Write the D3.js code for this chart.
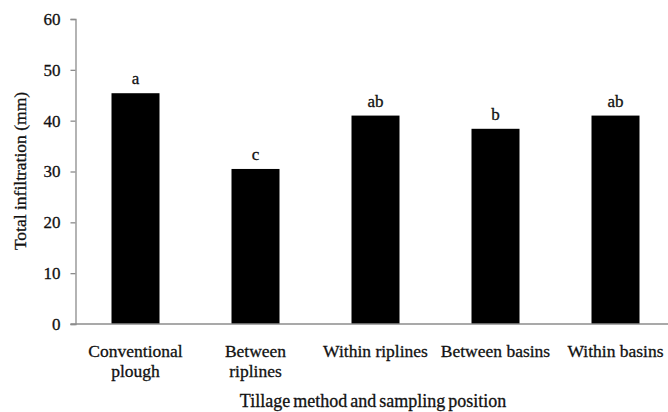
<!DOCTYPE html>
<html>
<head>
<meta charset="utf-8">
<script src="https://cdn.jsdelivr.net/npm/d3@7"></script>
<style>
  html, body { margin: 0; padding: 0; background: #fff; }
  text { font-family: "Liberation Serif", "Times New Roman", serif; fill: #111; stroke: #111; stroke-width: 0.3px; }
</style>
</head>
<body>
<svg id="chart" width="668" height="412"></svg>
<script>
// Total infiltration by tillage method and sampling position
const categories = [
  ["Conventional", "plough"],
  ["Between", "riplines"],
  ["Within riplines"],
  ["Between basins"],
  ["Within basins"]
];
const values = [45.4, 30.5, 41.0, 38.4, 41.0];
const letters = ["a", "c", "ab", "b", "ab"];
const yTicks = [0, 10, 20, 30, 40, 50, 60];

const svg = d3.select("#chart");
const W = 668, H = 412;
const plotLeft = 75.5, plotBottom = 324, plotTop = 19;
const keys = categories.map(c => c.join(" "));

const x = d3.scaleBand().domain(keys).range([plotLeft, plotLeft + 600]).paddingInner(0.6).paddingOuter(0.3);
const y = d3.scaleLinear().domain([0, 60]).range([plotBottom, plotTop]);

const axisColor = "#8c8c8c";

// y axis
const yAxis = svg.append("g").attr("transform", `translate(${plotLeft},0)`)
  .call(d3.axisLeft(y).tickValues(yTicks).tickSize(5).tickPadding(10));
yAxis.select(".domain").attr("stroke", axisColor).attr("stroke-width", 1.3);
yAxis.selectAll(".tick line").attr("stroke", axisColor).attr("stroke-width", 1.3);
yAxis.selectAll(".tick text")
  .style("font-size", "17px")
  .style("font-family", "Liberation Serif")
  .attr("fill", "#111")
  .attr("stroke", "#111")
  .attr("stroke-width", 0.3);

// bars
svg.append("g").selectAll("rect").data(values).join("rect")
  .attr("x", (d, i) => x(keys[i]))
  .attr("width", x.bandwidth())
  .attr("y", d => y(d))
  .attr("height", d => y(0) - y(d))
  .attr("fill", "#000");

// x axis baseline
svg.append("line")
  .attr("x1", plotLeft - 5).attr("x2", W)
  .attr("y1", y(0)).attr("y2", y(0))
  .attr("stroke", axisColor).attr("stroke-width", 1.3);

// significance letters
svg.append("g").selectAll("text").data(values).join("text")
  .attr("x", (d, i) => x(keys[i]) + x.bandwidth() / 2)
  .attr("y", d => y(d) - 9)
  .attr("text-anchor", "middle")
  .style("font-size", "17px")
  .text((d, i) => letters[i]);

// category labels
const cat = svg.append("g").selectAll("text").data(categories).join("text")
  .attr("x", (d, i) => x(keys[i]) + x.bandwidth() / 2)
  .attr("y", 357)
  .attr("text-anchor", "middle")
  .style("font-size", "17.5px");
cat.selectAll("tspan").data(d => d).join("tspan")
  .attr("x", function () { return d3.select(this.parentNode).attr("x"); })
  .attr("dy", (d, i) => i === 0 ? 0 : 20)
  .text(d => d);

// axis titles
svg.append("text")
  .attr("x", 373).attr("y", 407)
  .attr("text-anchor", "middle")
  .style("font-size", "18px")
  .style("word-spacing", "-1.5px")
  .text("Tillage method and sampling position");

svg.append("text")
  .attr("transform", `translate(26,171) rotate(-90)`)
  .attr("text-anchor", "middle")
  .style("font-size", "17.5px")
  .text("Total infiltration (mm)");
</script>
</body>
</html>
